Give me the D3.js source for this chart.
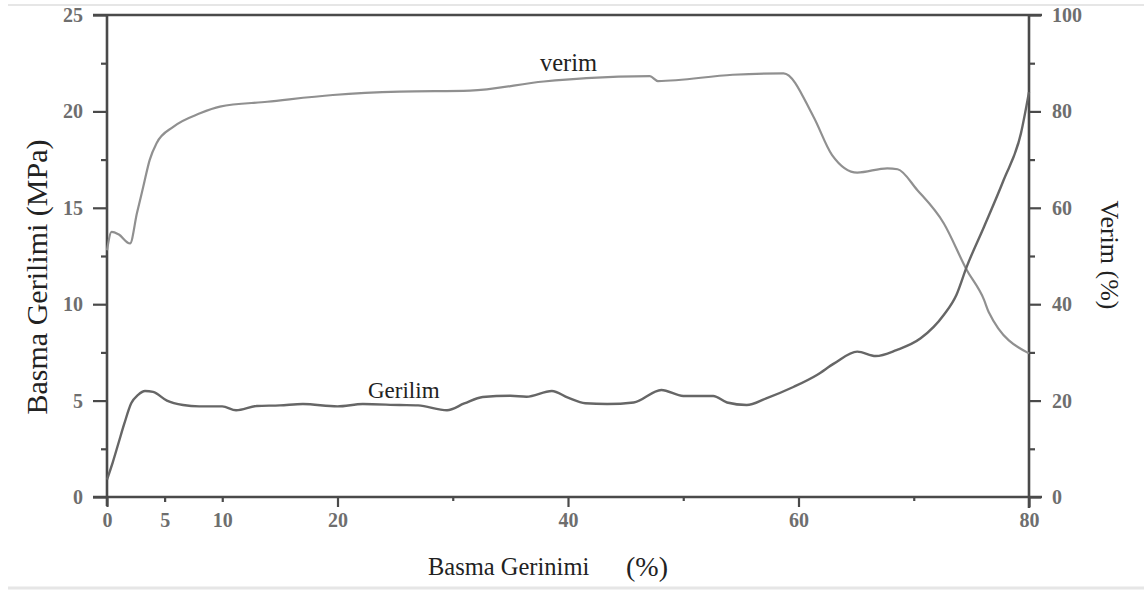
<!DOCTYPE html>
<html>
<head>
<meta charset="utf-8">
<script src="https://cdn.jsdelivr.net/npm/d3@7"></script>
<style>
  html, body { margin: 0; padding: 0; background: #fff; }
  svg { display: block; font-family: "Liberation Serif", "Times New Roman", serif; }
</style>
</head>
<body>
<svg id="chart" width="1144" height="592"></svg>
<script>
// ---- data ----
const strainGerilim = [0, 0.5, 1, 1.5, 2.1, 2.7, 3.3, 4, 5.2, 6.6, 8, 10, 11.2, 13, 15, 17, 20, 22.2, 25.4, 27, 29.5, 31, 32.6, 35, 36.4, 38.6, 40, 41.5, 43.4, 45.7, 48.1, 50, 52.6, 53.8, 55.5, 57.2, 59.6, 61.6, 63.1, 65.1, 66.7, 68.5, 70.6, 72.6, 73.7, 74.6, 76.1, 77.8, 79.3, 80];
const gerilimMPa = [0.9, 1.8, 2.8, 3.8, 4.86, 5.3, 5.5, 5.45, 5.0, 4.77, 4.7, 4.7, 4.5, 4.72, 4.75, 4.82, 4.7, 4.82, 4.77, 4.75, 4.5, 4.85, 5.19, 5.25, 5.2, 5.5, 5.15, 4.86, 4.82, 4.9, 5.55, 5.24, 5.24, 4.9, 4.77, 5.12, 5.72, 6.33, 6.93, 7.54, 7.31, 7.62, 8.23, 9.44, 10.48, 11.95, 14.02, 16.44, 18.86, 21.0];

const strainVerim = [0, 0.4, 1, 2, 2.6, 3.15, 3.7, 4.3, 5.75, 8.07, 9.8, 13.9, 19.6, 25.4, 31.5, 37.9, 41.6, 47.1, 47.8, 54.3, 58.7, 61.3, 62.9, 65.1, 67.7, 68.6, 70.3, 72.6, 74.6, 76.1, 76.5, 80];
const verimPct = [51.2, 55.0, 54.5, 52.6, 58.9, 64.4, 69.9, 73.4, 76.8, 79.6, 81.0, 82.0, 83.4, 84.1, 84.3, 86.2, 86.9, 87.3, 86.3, 87.6, 87.9, 78.9, 71.0, 67.3, 68.2, 68.0, 63.7, 56.8, 47.1, 40.9, 38.4, 29.8];

const xTicksLabeled = [0, 5, 10, 20, 40, 60, 80];
const xTicksMinor = [30, 50, 70];
const yLeftTicks = [0, 5, 10, 15, 20, 25];
const yLeftMinor = [2.5, 7.5, 12.5, 17.5, 22.5];
const yRightTicks = [0, 20, 40, 60, 80, 100];
const yRightMinor = [10, 30, 50, 70, 90];

const xTitle = "Basma Gerinimi";
const xTitleUnit = "(%)";
const yLeftTitle = "Basma Gerilimi (MPa)";
const yRightTitle = "Verim (%)";
const labelVerim = "verim";
const labelGerilim = "Gerilim";

// ---- layout ----
const svg = d3.select("#chart");
const L = 107, R = 1029, T = 15, B = 497;
const x = d3.scaleLinear().domain([0, 80]).range([L, R]);
const yL = d3.scaleLinear().domain([0, 25]).range([B, T]);
const yR = d3.scaleLinear().domain([0, 100]).range([B, T]);

const axisColor = "#4a4a4a";
const tickTextColor = "#6e6e6e";

// faint screenshot borders
svg.append("line").attr("x1", 8).attr("x2", 1144).attr("y1", 5).attr("y2", 5)
  .attr("stroke", "#e6e6e6").attr("stroke-width", 2);
svg.append("line").attr("x1", 8).attr("x2", 1144).attr("y1", 588).attr("y2", 588)
  .attr("stroke", "#e6e6e6").attr("stroke-width", 3);

function styleAxis(g, fs) {
  g.select(".domain").remove();
  g.selectAll(".tick line").attr("stroke", axisColor).attr("stroke-width", 2.2);
  g.selectAll(".tick text").attr("fill", tickTextColor).attr("font-size", fs)
    .attr("font-family", "Liberation Serif").attr("font-weight", "bold");
}

// left axis
const gL = svg.append("g").attr("transform", `translate(${L},0)`)
  .call(d3.axisLeft(yL).tickValues(yLeftTicks).tickSize(14).tickPadding(10).tickFormat(d3.format("d")));
styleAxis(gL, 20);
const gLm = svg.append("g").attr("transform", `translate(${L},0)`)
  .call(d3.axisLeft(yL).tickValues(yLeftMinor).tickSize(6).tickFormat(""));
styleAxis(gLm, 20);

// right axis
const gR = svg.append("g").attr("transform", `translate(${R},0)`)
  .call(d3.axisRight(yR).tickValues(yRightTicks).tickSize(12).tickPadding(11).tickFormat(d3.format("d")));
styleAxis(gR, 20);
const gRm = svg.append("g").attr("transform", `translate(${R},0)`)
  .call(d3.axisRight(yR).tickValues(yRightMinor).tickSize(6).tickFormat(""));
styleAxis(gRm, 20);

// bottom axis
const gB = svg.append("g").attr("transform", `translate(0,${B})`)
  .call(d3.axisBottom(x).tickValues(xTicksLabeled).tickSize(8).tickPadding(8).tickFormat(d3.format("d")));
styleAxis(gB, 20);
gB.selectAll(".tick line").attr("y2", d => (d === 5 || d === 10) ? 5 : 10);
const gBm = svg.append("g").attr("transform", `translate(0,${B})`)
  .call(d3.axisBottom(x).tickValues(xTicksMinor).tickSize(4).tickFormat(""));
styleAxis(gBm, 20);

// frame
const frame = svg.append("g").attr("stroke", axisColor).attr("stroke-width", 2.6).attr("fill", "none");
frame.append("line").attr("x1", L - 14).attr("x2", R + 13).attr("y1", T).attr("y2", T);
frame.append("line").attr("x1", L - 14).attr("x2", R + 13).attr("y1", B).attr("y2", B);
frame.append("line").attr("x1", L).attr("x2", L).attr("y1", T).attr("y2", B + 9);
frame.append("line").attr("x1", R).attr("x2", R).attr("y1", T).attr("y2", B + 11);

// curves
const lineG = d3.line().x(d => x(d[0])).y(d => yL(d[1])).curve(d3.curveMonotoneX);
const lineV = d3.line().x(d => x(d[0])).y(d => yR(d[1])).curve(d3.curveMonotoneX);

svg.append("path").datum(d3.zip(strainVerim, verimPct))
  .attr("d", lineV).attr("fill", "none").attr("stroke", "#909090").attr("stroke-width", 2.2);
svg.append("path").datum(d3.zip(strainGerilim, gerilimMPa))
  .attr("d", lineG).attr("fill", "none").attr("stroke", "#666666").attr("stroke-width", 2.4);

// curve labels
svg.append("text").attr("x", 540).attr("y", 71).attr("font-size", 24.5).attr("fill", "#222").text(labelVerim);
svg.append("text").attr("x", 368).attr("y", 398).attr("font-size", 23).attr("fill", "#222").text(labelGerilim);

// axis titles
svg.append("text").attr("x", 428).attr("y", 575).attr("font-size", 24.5).attr("fill", "#222").text(xTitle);
svg.append("text").attr("x", 626).attr("y", 576).attr("font-size", 28).attr("fill", "#222").text(xTitleUnit);

svg.append("text").attr("transform", "translate(47,277) rotate(-90)")
  .attr("text-anchor", "middle").attr("font-size", 30).attr("fill", "#222").text(yLeftTitle);
svg.append("text").attr("transform", "translate(1101,255) rotate(90)")
  .attr("text-anchor", "middle").attr("font-size", 26).attr("fill", "#222").text(yRightTitle);
</script>
</body>
</html>
